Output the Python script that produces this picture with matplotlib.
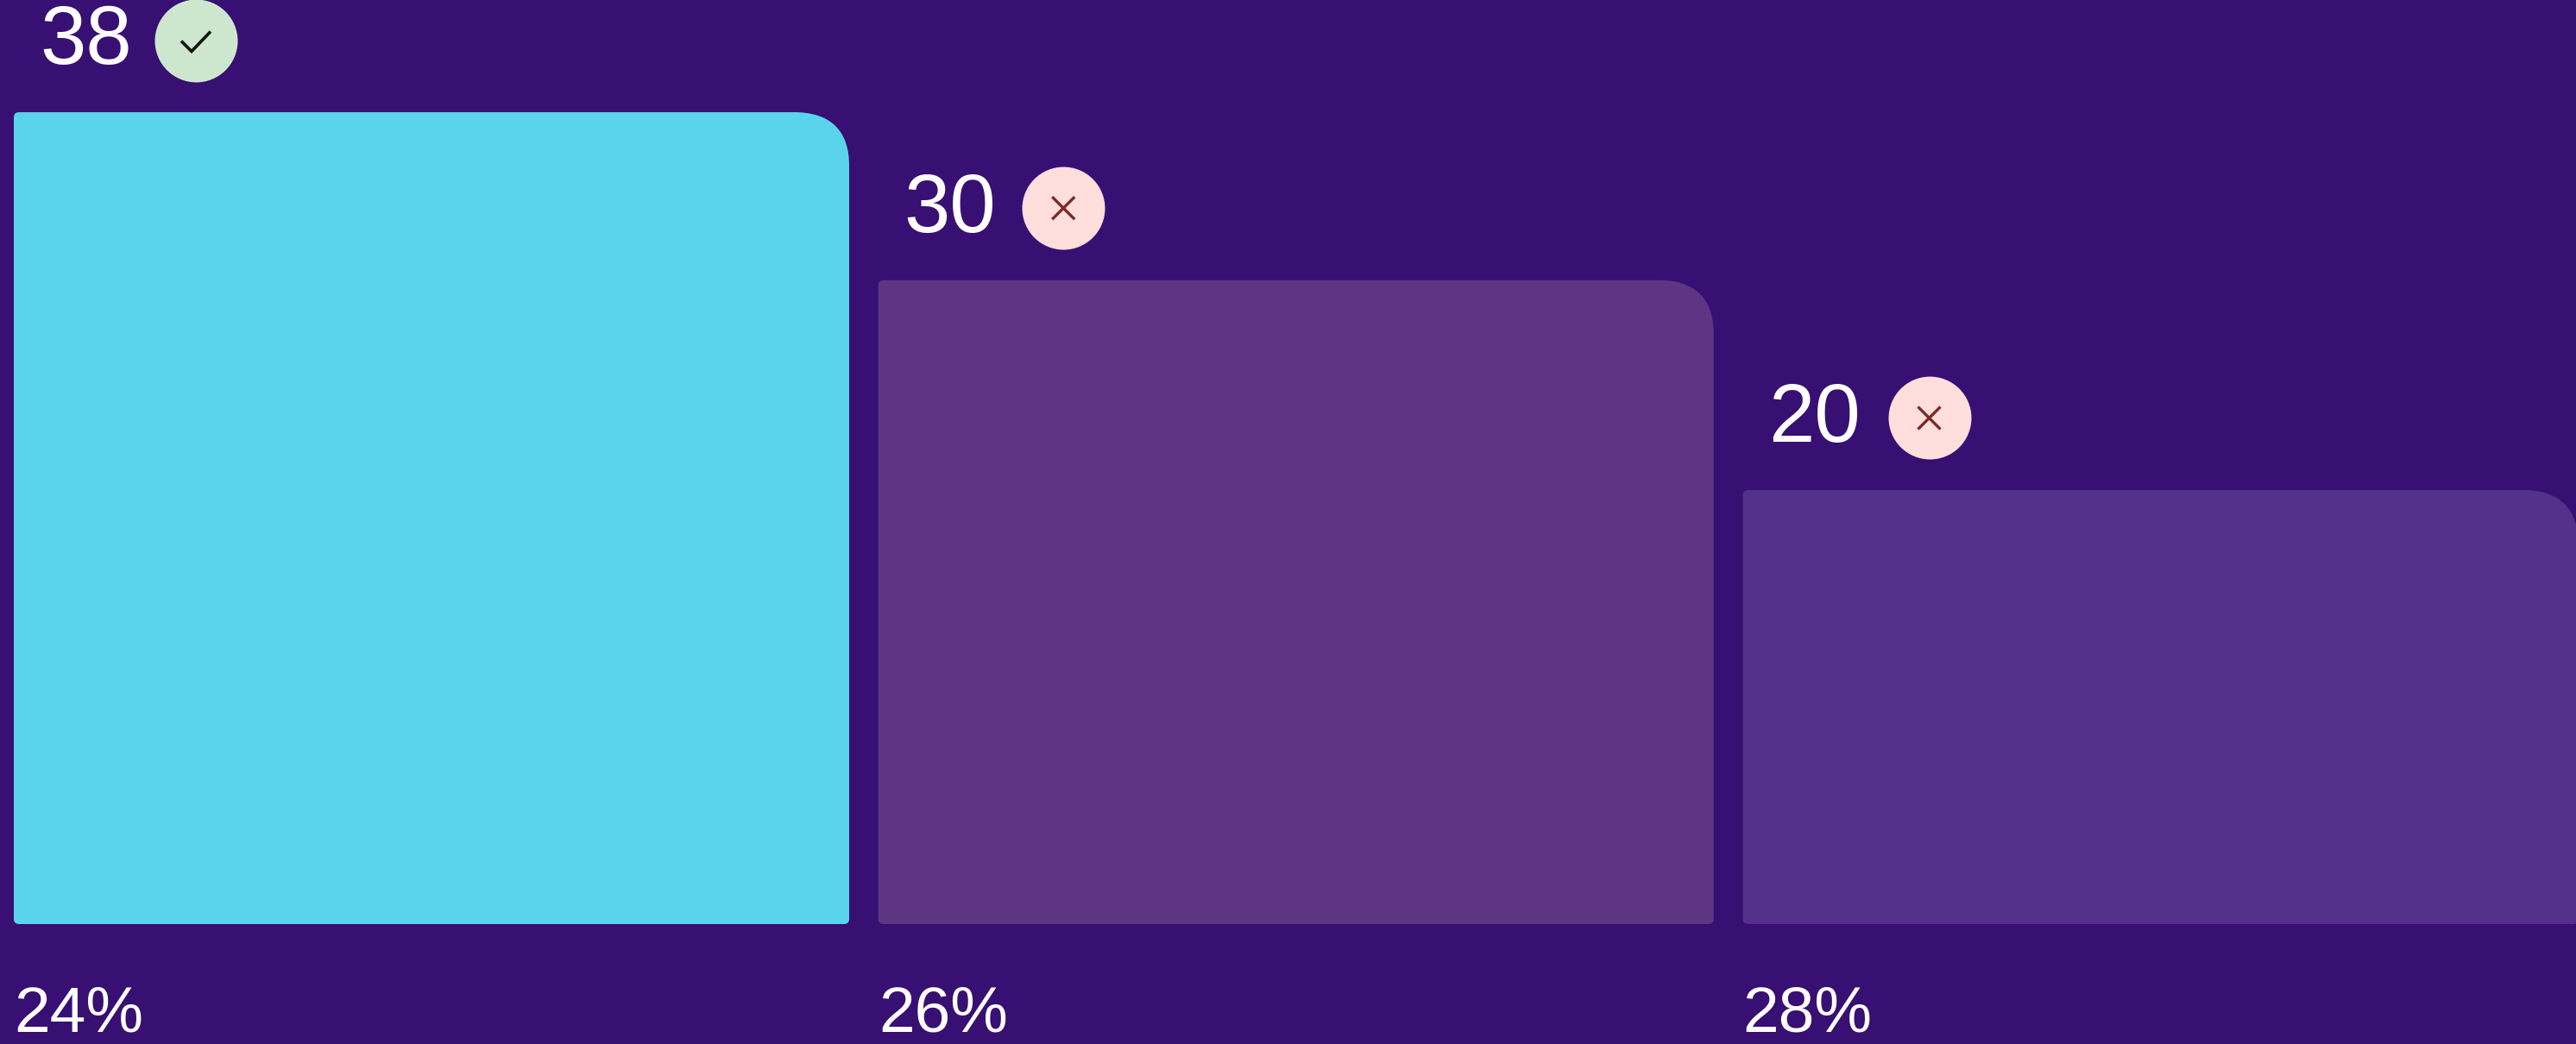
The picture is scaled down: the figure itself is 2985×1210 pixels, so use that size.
import matplotlib
matplotlib.use("Agg")
import matplotlib.pyplot as plt
from matplotlib.patches import PathPatch
from matplotlib.path import Path

# values
shares = ["24%", "26%", "28%"]
values = [38, 30, 20]
passed = [True, False, False]
bar_colors = ["#5AD4EC", "#5E3583", "#53318A"]

BG = "#380F72"
W, H = 2985, 1210

# axis scale: pixels per unit, measured on the reference
x_px = 1001.75
y_px = 24.33
baseline = -0.675
bar_width = 968 / x_px
badge_dx = [211, 214.5, 216]

plt.rcParams['font.family'] = ['Liberation Sans', 'DejaVu Sans']

fig = plt.figure(figsize=(W / 100, H / 100), dpi=100, facecolor=BG)
ax = fig.add_axes([0, 0, 1, 1])
ax.set_facecolor(BG)
ax.set_xlim(-500 / x_px, (W - 500) / x_px)
ax.set_ylim(baseline - (H - 1071) / y_px, baseline + 1071 / y_px)
ax.axis("off")


def bar_path(x0, x1, y0, y1):
    '''
    Outline of a bar with small corners and one large top right corner
    '''
    sx, sy = 6 / x_px, 6 / y_px
    bx, by = 64 / x_px, 62 / y_px
    k = 0.66
    verts = [(x0 + sx, y0), (x1 - sx, y0),
             (x1, y0), (x1, y0 + sy),
             (x1, y1 - by),
             (x1, y1 - by * (1 - k)), (x1 - bx * (1 - k), y1), (x1 - bx, y1),
             (x0 + sx, y1),
             (x0, y1), (x0, y1 - sy),
             (x0, y0 + sy),
             (x0, y0), (x0 + sx, y0)]
    codes = [Path.MOVETO, Path.LINETO,
             Path.CURVE3, Path.CURVE3,
             Path.LINETO,
             Path.CURVE4, Path.CURVE4, Path.CURVE4,
             Path.LINETO,
             Path.CURVE3, Path.CURVE3,
             Path.LINETO,
             Path.CURVE3, Path.CURVE3]
    return Path(verts, codes)


for i, (share, value, ok, color) in enumerate(zip(shares, values, passed, bar_colors)):
    left = i - bar_width / 2
    right = i + bar_width / 2
    ax.add_patch(PathPatch(bar_path(left, right, baseline, value), facecolor=color,
                           edgecolor="none", clip_on=True))

    # value above the bar, share below it
    ax.text(left + 30 / x_px, value + 56 / y_px, str(value), color="white", fontsize=69,
            ha="left", va="baseline")
    ax.text(left, baseline - 124 / y_px, share, color="white", fontsize=54,
            ha="left", va="baseline")

    # status badge
    cx = left + badge_dx[i] / x_px
    cy = value + 83.5 / y_px
    ax.scatter([cx], [cy], s=69.1 ** 2, color="#CDE7CF" if ok else "#FFDEDC",
               linewidths=0, zorder=3)
    if ok:
        ax.plot([cx - 17 / x_px, cx - 5 / x_px, cx + 17 / x_px],
                [cy - 1 / y_px, cy - 13 / y_px, cy + 10 / y_px],
                color="#141414", lw=2.6, solid_capstyle="butt", solid_joinstyle="miter", zorder=4)
    else:
        d = 13
        ax.plot([cx - d / x_px, cx + d / x_px], [cy - d / y_px, cy + d / y_px],
                color="#7B2A24", lw=2.4, solid_capstyle="butt", zorder=4)
        ax.plot([cx - d / x_px, cx + d / x_px], [cy + d / y_px, cy - d / y_px],
                color="#7B2A24", lw=2.4, solid_capstyle="butt", zorder=4)

fig.savefig("out.png", dpi=100, facecolor=BG)
